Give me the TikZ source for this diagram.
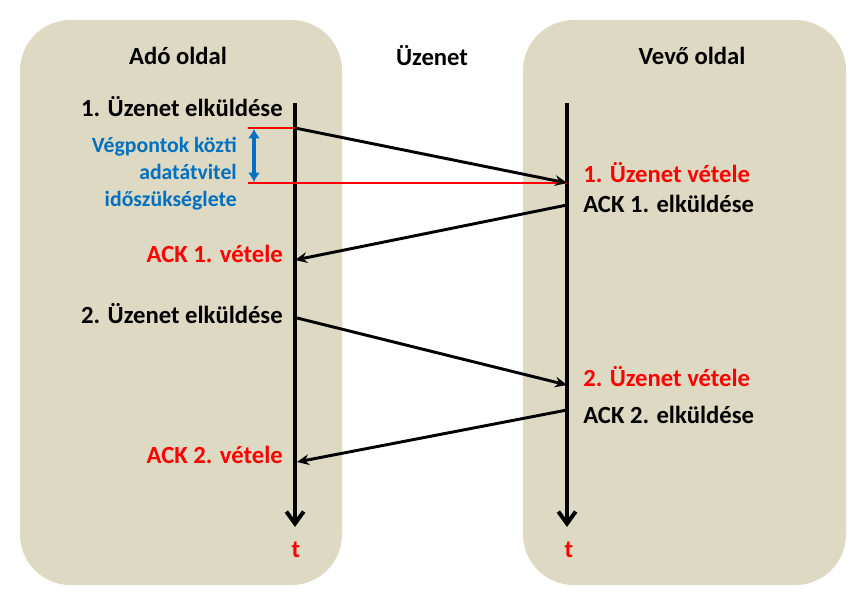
\documentclass[tikz,border=0pt]{standalone}
\usepackage{fontspec}
\setmainfont{Carlito}
\usetikzlibrary{arrows.meta}
\definecolor{panel}{RGB}{221,217,195}
\definecolor{txtred}{RGB}{255,0,0}
\definecolor{txtblue}{RGB}{0,112,192}
\begin{document}
\begin{tikzpicture}[x=0.75pt,y=-0.75pt,
  panelbox/.style={fill=panel,draw=none,rounded corners=38pt},
  lbl/.style={font=\bfseries\fontsize{18.5}{22}\selectfont,inner sep=0pt},
  redlbl/.style={lbl,text=txtred},
  bluelbl/.style={font=\bfseries\fontsize{16.3}{20.3}\selectfont,text=txtblue,align=right,inner sep=0pt},
  timeline/.style={line width=3pt,-{Straight Barb[length=9pt,width=13pt,line width=3pt]}},
  msg/.style={line width=2.2pt,-{Stealth[length=9pt,width=8pt]}},
  redline/.style={draw=txtred,line width=1.4pt},
  span/.style={draw=txtblue,line width=3pt,{Latex[length=7pt,width=9pt]}-{Latex[length=7pt,width=9pt]}}
]
\useasboundingbox (0,0) rectangle (866,605);
\fill[white] (0,0) rectangle (866,605);
% panels
\path[panelbox] (20,20) rectangle (342,585);
\path[panelbox] (523,20) rectangle (846,585);
% headings
\node[lbl] (ado) at (178,56) {Adó oldal};
\node[lbl] (uz) at (432,56) {Üzenet};
\node[lbl] (vevo) at (692,56) {Vevő oldal};
% timelines
\coordinate (Ltop) at (295,103);
\coordinate (Lbot) at (295,527);
\coordinate (Rtop) at (567,103);
\coordinate (Rbot) at (567,527);
\draw[timeline] (Ltop) -- (Lbot);
\draw[timeline] (Rtop) -- (Rbot);
\node[redlbl] (tl) at (296,550) {t};
\node[redlbl] (tr) at (569,550) {t};
% event points
\coordinate (L1) at (295,128);
\coordinate (R1) at (567,183);
\coordinate (R2) at (567,205);
\coordinate (L2) at (295,260);
\coordinate (L3) at (297,318);
\coordinate (R3) at (567,385);
\coordinate (R4) at (567,410);
\coordinate (L4) at (297,462);
% red delay lines
\coordinate (ra) at (248,128);
\coordinate (rb) at (248,183);
\draw[redline] (ra) -- (L1);
\draw[redline] (rb) -- (R1);
\coordinate (sa) at (254,129);
\coordinate (sb) at (254,182);
\draw[span] (sa) -- (sb);
% messages
\draw[msg] (L1) -- (R1);
\draw[msg] (R2) -- (L2);
\draw[msg] (L3) -- (R3);
\draw[msg] (R4) -- (L4);
% labels
\node[lbl,anchor=mid east] (s1) at (283,113) {1. Üzenet elküldése};
\node[bluelbl,anchor=east] (delay) at (237,174) {Végpontok  közti\\adatátvitel\\időszükséglete};
\node[redlbl,anchor=mid west] (v1) at (583,179) {1. Üzenet vétele};
\node[lbl,anchor=mid west] (a1) at (583,209) {ACK 1. elküldése};
\node[redlbl,anchor=mid east] (av1) at (283,259) {ACK 1. vétele};
\node[lbl,anchor=mid east] (s2) at (283,320) {2. Üzenet elküldése};
\node[redlbl,anchor=mid west] (v2) at (583,383) {2. Üzenet vétele};
\node[lbl,anchor=mid west] (a2) at (583,420) {ACK 2. elküldése};
\node[redlbl,anchor=mid east] (av2) at (283,460) {ACK 2. vétele};
\end{tikzpicture}
\end{document}
